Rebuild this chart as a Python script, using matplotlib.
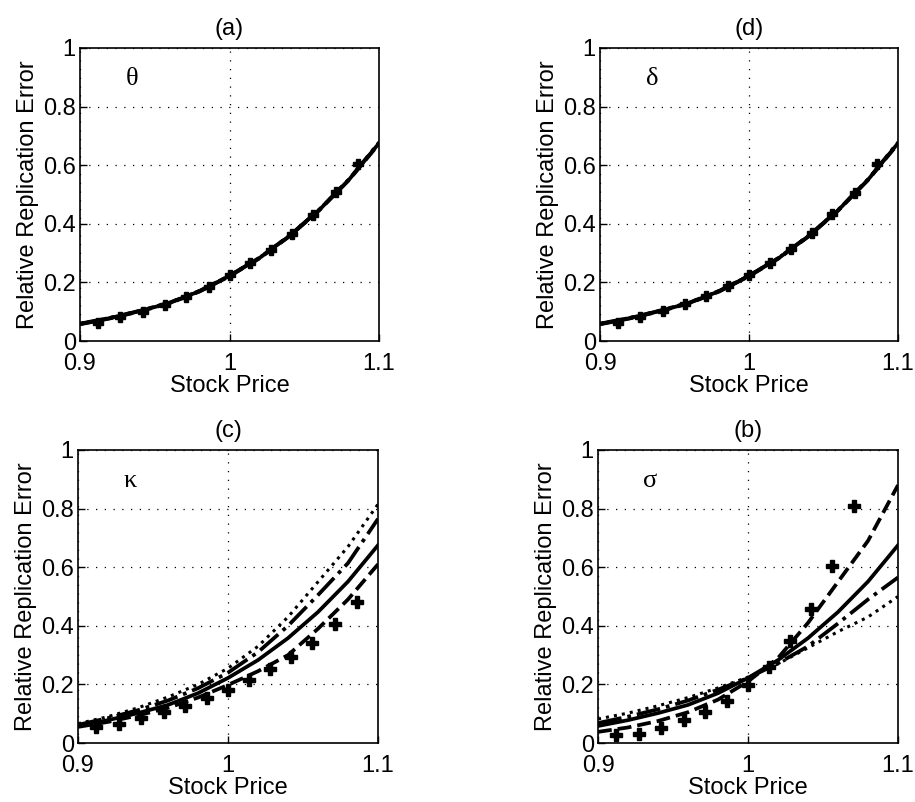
import numpy as np
import matplotlib
matplotlib.use("Agg")
import matplotlib.pyplot as plt

plt.rcParams['font.family'] = ['Liberation Sans', 'DejaVu Sans']

# stock price grid for the curves, and where the "+" markers sit
price = [0.90, 0.92, 0.94, 0.96, 0.98, 1.00, 1.02, 1.04, 1.06, 1.08, 1.10]
price_mk = [0.912, 0.927, 0.942, 0.957, 0.971, 0.986, 1.000, 1.014, 1.028, 1.042, 1.056, 1.071, 1.086]

# baseline (solid) relative replication error, same in every panel
base = [0.058, 0.078, 0.102, 0.130, 0.170, 0.222, 0.283, 0.358, 0.447, 0.551, 0.675]

# (a) theta: all perturbations lie on top of the baseline
theta_dash = [0.057, 0.077, 0.101, 0.129, 0.169, 0.221, 0.282, 0.357, 0.446, 0.550, 0.673]
theta_dashdot = [0.059, 0.079, 0.103, 0.131, 0.171, 0.223, 0.284, 0.359, 0.448, 0.552, 0.677]
theta_dot = [0.060, 0.080, 0.104, 0.132, 0.172, 0.224, 0.285, 0.360, 0.449, 0.553, 0.678]
theta_mk = [0.062, 0.082, 0.100, 0.123, 0.150, 0.185, 0.225, 0.265, 0.310, 0.365, 0.430, 0.510, 0.605]

# (d) delta
delta_dash = [0.057, 0.077, 0.101, 0.129, 0.169, 0.221, 0.282, 0.357, 0.446, 0.550, 0.673]
delta_dashdot = [0.059, 0.079, 0.103, 0.131, 0.171, 0.223, 0.284, 0.359, 0.448, 0.552, 0.677]
delta_dot = [0.060, 0.080, 0.104, 0.132, 0.172, 0.224, 0.285, 0.360, 0.449, 0.553, 0.678]
delta_mk = [0.063, 0.083, 0.103, 0.127, 0.153, 0.187, 0.226, 0.266, 0.313, 0.367, 0.433, 0.505, 0.603]

# (c) kappa
kappa_dash = [0.055, 0.072, 0.094, 0.120, 0.155, 0.198, 0.245, 0.300, 0.390, 0.490, 0.610]
kappa_dashdot = [0.062, 0.085, 0.112, 0.145, 0.187, 0.240, 0.310, 0.400, 0.505, 0.614, 0.765]
kappa_dot = [0.066, 0.090, 0.120, 0.157, 0.200, 0.255, 0.330, 0.430, 0.550, 0.670, 0.815]
kappa_mk = [0.055, 0.066, 0.085, 0.106, 0.125, 0.154, 0.182, 0.216, 0.254, 0.294, 0.342, 0.405, 0.482]

# (b) sigma
sigma_dash = [0.038, 0.053, 0.075, 0.105, 0.148, 0.210, 0.290, 0.410, 0.550, 0.690, 0.880]
sigma_dashdot = [0.068, 0.090, 0.115, 0.145, 0.182, 0.222, 0.272, 0.330, 0.408, 0.490, 0.565]
sigma_dot = [0.082, 0.102, 0.127, 0.155, 0.188, 0.225, 0.270, 0.325, 0.380, 0.430, 0.500]
sigma_mk = [0.026, 0.032, 0.052, 0.077, 0.106, 0.144, 0.197, 0.260, 0.349, 0.459, 0.605, 0.810, 1.08]

panels = [
    ("(a)", "\u03b8", theta_dash, theta_dashdot, theta_dot, theta_mk, 6.5),
    ("(d)", "\u03b4", delta_dash, delta_dashdot, delta_dot, delta_mk, 6.5),
    ("(c)", "\u03ba", kappa_dash, kappa_dashdot, kappa_dot, kappa_mk, 8),
    ("(b)", "\u03c3", sigma_dash, sigma_dashdot, sigma_dot, sigma_mk, 8),
]

W, H = 915, 802
fig = plt.figure(figsize=(W / 100, H / 100), dpi=100)
# axes boxes in pixels: left, top, right, bottom
boxes = [(80, 48, 379, 341), (600, 48, 898, 341),
         (78, 450, 378, 743), (598, 450, 898, 743)]

fs = 17
for (title, sym, dsh, dd, dt, mk, ms), (l, t, r, b) in zip(panels, boxes):
    ax = fig.add_axes([l / W, (H - b) / H, (r - l) / W, (b - t) / H])
    lw = 2.7
    ax.plot(price, dt, color='k', lw=2.2, ls=':')
    ax.plot(price, dd, color='k', lw=lw, ls='-.')
    ax.plot(price, dsh, color='k', lw=lw, ls='--')
    ax.plot(price, base, color='k', lw=lw, ls='-')
    ax.plot(price_mk, mk, ls='none', marker='P', ms=ms, color='k', clip_on=True)

    ax.set_xlim(0.9, 1.1)
    ax.set_ylim(0, 1)
    ax.set_xticks([0.9, 1.0, 1.1])
    ax.set_xticklabels(["0.9", "1", "1.1"])
    ax.set_yticks([0, 0.2, 0.4, 0.6, 0.8, 1.0])
    ax.set_yticklabels(["0", "0.2", "0.4", "0.6", "0.8", "1"])
    ax.tick_params(direction='in', length=5, width=1, labelsize=fs)
    ax.tick_params(axis='x', pad=9)
    ax.tick_params(axis='y', pad=3)
    ax.grid(True, color='k', lw=0.9, ls=(0, (1, 6)))
    for s in ax.spines.values():
        s.set_linewidth(1.2)
    ax.set_title(title, fontsize=fs, pad=9)
    ax.set_xlabel("Stock Price", fontsize=fs, labelpad=0)
    ax.set_ylabel("Relative Replication Error", fontsize=fs, labelpad=3)
    ax.text(0.935, 0.895, sym, fontsize=19, family=['Liberation Serif', 'DejaVu Serif'],
            ha='center', va='center')

fig.savefig("out.png", dpi=100)
